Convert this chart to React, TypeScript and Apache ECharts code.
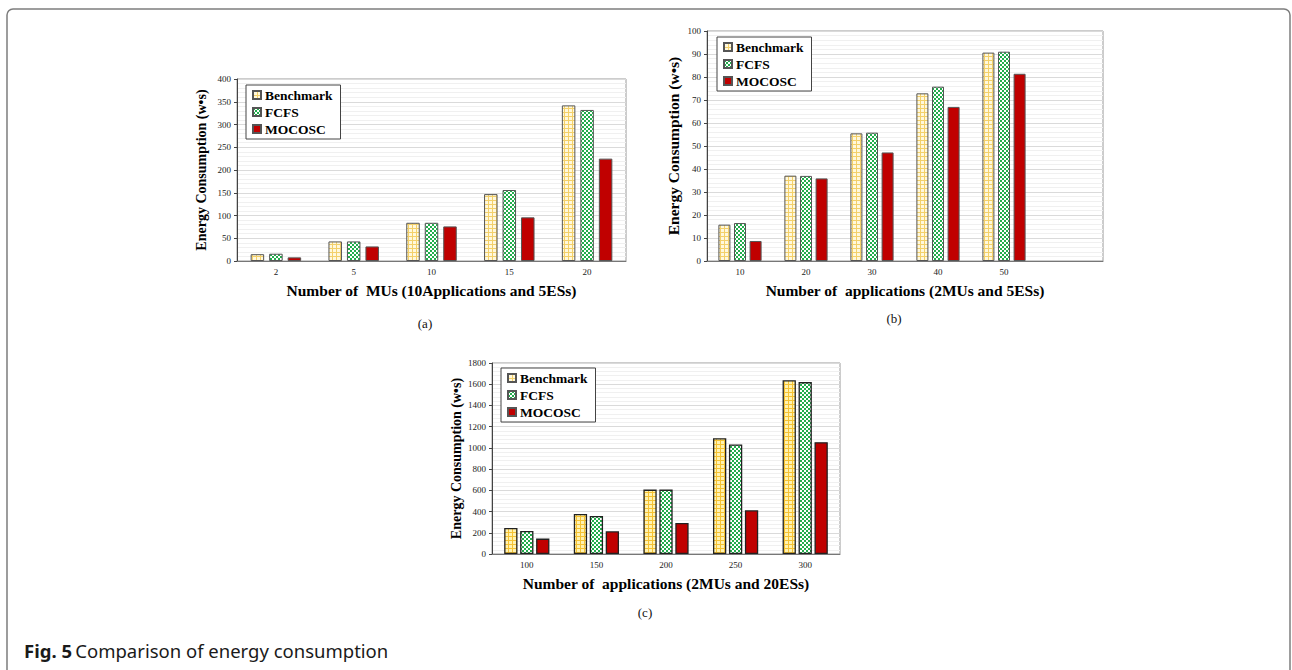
import React, { useEffect, useRef } from "react";
import * as echarts from "echarts";

const seriesNames = ["Benchmark", "FCFS", "MOCOSC"];

const catsA = ["2", "5", "10", "15", "20"];
const benchA = [15, 43, 84, 147, 342];
const fcfsA = [16, 43, 84, 156, 332];
const mocA = [8, 32, 76, 96, 225];

const catsB = ["10", "20", "30", "40", "50", ""];
const benchB = [15.8, 37.1, 55.5, 72.9, 90.6];
const fcfsB = [16.5, 37, 55.8, 75.8, 91];
const mocB = [8.7, 35.9, 47.2, 67, 81.4];

const catsC = ["100", "150", "200", "250", "300"];
const benchC = [245, 378, 607, 1092, 1637];
const fcfsC = [217, 359, 607, 1032, 1620];
const mocC = [145, 214, 293, 412, 1054];

const titleA = "Number of  MUs (10Applications and 5ESs)";
const titleB = "Number of  applications (2MUs and 5ESs)";
const titleC = "Number of  applications (2MUs and 20ESs)";
const yTitle = "Energy Consumption (w\u2022s)";

const SERIF = "'Liberation Serif', 'Times New Roman', serif";

function makePattern(kind: string, bg: string, fg: string) {
  const c = document.createElement("canvas");
  c.width = 4;
  c.height = 4;
  const ctx = c.getContext("2d")!;
  ctx.fillStyle = bg;
  ctx.fillRect(0, 0, 4, 4);
  ctx.fillStyle = fg;
  if (kind === "grid") {
    ctx.fillRect(0, 0, 4, 1);
    ctx.fillRect(0, 0, 1, 4);
  } else {
    ctx.fillRect(0, 0, 2, 2);
    ctx.fillRect(2, 2, 2, 2);
  }
  return { image: c.toDataURL(), repeat: "repeat", imageWidth: 4, imageHeight: 4 };
}

export default function App() {
  const ref = useRef<HTMLDivElement>(null);
  useEffect(() => {
    const chart = echarts.init(ref.current!, null, { renderer: "svg" });
    const gridPat = makePattern("grid", "#fff8dc", "#f3d06a");
    const gridPatC = makePattern("grid", "#fff2b0", "#f5c233");
    const checkPat = makePattern("check", "#ffffff", "#22ad4c");
    const red = "#c00000";

    const grids = [
      { left: 237, top: 79, width: 389, height: 182 },
      { left: 707, top: 31, width: 396, height: 230 },
      { left: 492, top: 363, width: 348, height: 191 },
    ].map((g) => ({
      ...g,
      show: true,
      backgroundColor: "#ffffff",
      borderColor: "#9a9a9a",
      borderWidth: 1,
    }));

    const xAxis = [
      { cats: catsA, name: titleA },
      { cats: catsB, name: titleB },
      { cats: catsC, name: titleC },
    ].map((a, i) => ({
      type: "category",
      gridIndex: i,
      data: a.cats,
      axisLine: { show: true, lineStyle: { color: "#777", width: 1 } },
      axisTick: { show: false },
      axisLabel: { fontFamily: SERIF, fontSize: 9, color: "#222", margin: 6 },
      name: a.name,
      nameLocation: "middle",
      nameGap: 21,
      nameTextStyle: { fontFamily: SERIF, fontWeight: "bold", fontSize: 15.5, color: "#000" },
    }));

    const yAxis = [
      { max: 400, interval: 50, gap: 29, fs: 14 },
      { max: 100, interval: 10, gap: 26, fs: 15.5 },
      { max: 1800, interval: 200, gap: 29, fs: 14 },
    ].map((a, i) => ({
      type: "value",
      gridIndex: i,
      min: 0,
      max: a.max,
      interval: a.interval,
      axisLine: { show: true, lineStyle: { color: "#444", width: 1 } },
      axisTick: { show: true, length: 3, lineStyle: { color: "#444" } },
      axisLabel: {
        fontFamily: SERIF,
        fontSize: 9,
        color: "#222",
        margin: 6,
        formatter: (v: number) => String(v),
      },
      splitLine: { show: true, lineStyle: { color: "#dadada", width: 1 } },
      minorTick: { show: false, splitNumber: 5 },
      minorSplitLine: { show: true, lineStyle: { color: "#f0f0f0", width: 1 } },
      name: yTitle,
      nameLocation: "middle",
      nameRotate: 90,
      nameGap: a.gap,
      nameTextStyle: { fontFamily: SERIF, fontWeight: "bold", fontSize: a.fs, color: "#000" },
    }));

    const sets = [
      { data: [benchA, fcfsA, mocA], bw: 13.5, gap: "37%", pats: [gridPat, checkPat, red], bc: "#555", bwid: 1 },
      { data: [benchB, fcfsB, mocB], bw: 12, gap: "30%", pats: [gridPat, checkPat, red], bc: "#555", bwid: 1 },
      { data: [benchC, fcfsC, mocC], bw: 13.3, gap: "20%", pats: [gridPatC, checkPat, red], bc: "#222", bwid: 1.3 },
    ];
    const series: any[] = [];
    sets.forEach((s, gi) => {
      s.data.forEach((d, si) => {
        series.push({
          type: "bar",
          name: seriesNames[si],
          xAxisIndex: gi,
          yAxisIndex: gi,
          data: d,
          barWidth: s.bw,
          barGap: s.gap,
          itemStyle: { color: s.pats[si], borderColor: s.bc, borderWidth: s.bwid },
        });
      });
    });

    const legends = [
      { left: 246, top: 85 },
      { left: 717, top: 37 },
      { left: 501, top: 368 },
    ].map((l) => ({
      ...l,
      data: seriesNames,
      orient: "vertical",
      selectedMode: false,
      icon: "rect",
      itemWidth: 8,
      itemHeight: 8,
      itemGap: 3,
      padding: [3, 8, 3, 6],
      borderColor: "#444",
      borderWidth: 1,
      backgroundColor: "#ffffff",
      textStyle: { fontFamily: SERIF, fontWeight: "bold", fontSize: 13.5, color: "#000", padding: [0, 0, 0, -1] },
    }));

    chart.setOption({
      animation: false,
      grid: grids,
      xAxis,
      yAxis,
      legend: legends,
      series,
      graphic: [
        {
          type: "rect",
          silent: true,
          shape: { x: 7, y: 9, width: 1283, height: 700, r: 6 },
          style: { fill: "none", stroke: "#7d7d7d", lineWidth: 1.5 },
        },
        {
          type: "text",
          x: 425,
          y: 323,
          style: { text: "(a)", font: "13px " + SERIF, fill: "#111", align: "center", verticalAlign: "middle" },
        },
        {
          type: "text",
          x: 894,
          y: 318,
          style: { text: "(b)", font: "13px " + SERIF, fill: "#111", align: "center", verticalAlign: "middle" },
        },
        {
          type: "text",
          x: 645,
          y: 612,
          style: { text: "(c)", font: "13px " + SERIF, fill: "#111", align: "center", verticalAlign: "middle" },
        },
        {
          type: "text",
          x: 24,
          y: 650,
          style: {
            text: "{b|Fig. 5} {n|Comparison of energy consumption}",
            verticalAlign: "middle",
            rich: {
              b: { fontFamily: "'Noto Sans', sans-serif", fontWeight: "bold", fontSize: 18.5, fill: "#1a1a1a" },
              n: { fontFamily: "'Noto Sans', sans-serif", fontSize: 18.5, fill: "#1a1a1a" },
            },
          },
        },
      ],
    });
    return () => chart.dispose();
  }, []);
  return (
    <div
      ref={ref}
      style={{ position: "absolute", left: 0, top: 0, width: 1292, height: 670, background: "#fff" }}
    />
  );
}
